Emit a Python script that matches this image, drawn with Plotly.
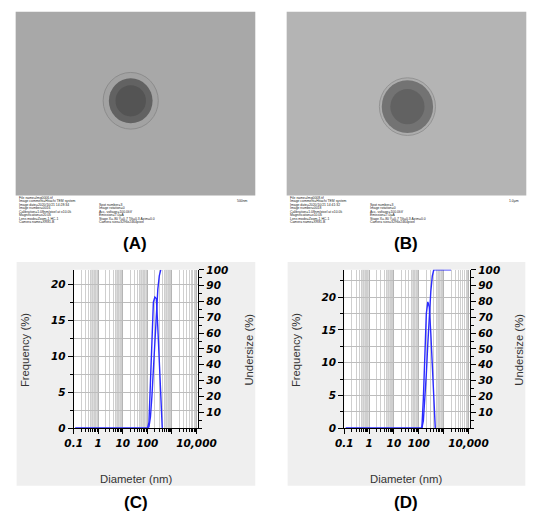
import plotly.graph_objects as go

W, H = 550, 524

# particle size classes (nm) and distributions
diameter = [0.115, 101.1, 116.1, 133.3, 153.1, 175.8, 201.8, 231.7, 266.1,
            305.5, 350.8, 402.8, 462.5, 2000.0]
freq_c = [0, 0, 0.8, 6.2, 13.0, 17.5, 18.2, 18.0, 14.0, 8.5, 3.8, 0, None, None]
under_c = [0, 0, 0.8, 7.0, 20.0, 37.5, 55.7, 73.7, 87.7, 96.2, 100.0, None, None, None]
freq_d = [0, 0, 0, 0, 4.5, 12.0, 17.5, 19.3, 18.5, 14.5, 9.7, 4.0, 0, None]
under_d = [0, 0, 0, 0, 4.5, 16.5, 34.0, 53.3, 71.8, 86.3, 96.0, 100.0, 100.0, 100.0]

x_tickvals = [0.1, 1, 10, 100, 1000, 10000]
x_ticktext = ["0.1", "1", "10", "100", "", "10,000"]
under_tickvals = [10, 20, 30, 40, 50, 60, 70, 80, 90, 100]

meta_left_a = ["File name=Img0006.tif", "Image comment=Hitachi TEM system",
               "Image date=2020/10/21 14:28:34", "Image number=0016",
               "Calibration=1.08nm/pixel at x10.0k", "Magnification=x20.0k",
               "Lens mode=Zoom-1 HC-1", "Camera name=XR81-B"]
meta_left_b = ["File name=Img0008.tif", "Image comment=Hitachi TEM system",
               "Image date=2020/10/21 14:41:32", "Image number=0018",
               "Calibration=1.08nm/pixel at x10.0k", "Magnification=x10.0k",
               "Lens mode=Zoom-1 HC-1", "Camera name=XR81-B"]
meta_right = ["Spot number=3", "Image rotation=0", "Acc. voltage=100.0kV",
              "Emission=7.0\u00b5A", "Stage X=-80 Y=0.7 Tilt=0.3 Azim=0.0",
              "Camera size=3296x2464pixel"]


def px(x):
    return x / W


def py(y):
    return 1 - y / H


BLUE = "#2b2bff"
tick_font = dict(family="DejaVu Sans", size=10.5, weight="bold", style="italic", color="black")
title_font = dict(family="Liberation Sans", size=11.3, color="#333333")
minor_x = [k * 10 ** n for n in range(-1, 4) for k in range(2, 10)]

fig = go.Figure()

# frequency + undersize curves for C and D
fig.add_trace(go.Scatter(x=diameter, y=freq_c, mode="lines", line=dict(color=BLUE, width=1.4),
                         xaxis="x", yaxis="y", connectgaps=False))
fig.add_trace(go.Scatter(x=diameter, y=under_c, mode="lines", line=dict(color=BLUE, width=1.4),
                         xaxis="x", yaxis="y3", connectgaps=False))
fig.add_trace(go.Scatter(x=diameter, y=freq_d, mode="lines", line=dict(color=BLUE, width=1.4),
                         xaxis="x2", yaxis="y2", connectgaps=False))
fig.add_trace(go.Scatter(x=diameter, y=under_d, mode="lines", line=dict(color=BLUE, width=1.4),
                         xaxis="x2", yaxis="y4", connectgaps=False))

ydom = [py(432), py(270)]
panels = {
    "C": dict(plot=(68, 199), bg=(8, 259), xa="x", ya="y", ymax=22.0),
    "D": dict(plot=(352.5, 485), bg=(293, 543), xa="x2", ya="y2", ymax=24.2),
}

shapes = []
annotations = []


def xaxis_cfg(dom, anchor):
    return dict(domain=[px(dom[0]), px(dom[1])], anchor=anchor, type="log", range=[-1, 4.07],
                tickmode="array", tickvals=x_tickvals, ticktext=x_ticktext,
                ticks="outside", ticklen=5, tickcolor="black", tickfont=tick_font,
                showline=True, linecolor="black", linewidth=1, zeroline=False,
                showgrid=True, gridcolor="#b5b5b5", gridwidth=1,
                minor=dict(tickmode="array", tickvals=minor_x, ticks="outside", ticklen=3,
                           tickcolor="black", showgrid=True, gridcolor="#cfcfcf"))


def yaxis_cfg(anchor, ymax):
    return dict(domain=ydom, anchor=anchor, range=[0, ymax], tick0=0, dtick=5,
                ticks="outside", ticklen=5, tickcolor="black", tickfont=tick_font,
                showline=True, linecolor="black", linewidth=1, zeroline=False,
                showgrid=True, gridcolor="#bdbdbd",
                minor=dict(tick0=0, dtick=2.5, ticks="outside", ticklen=3, tickcolor="black",
                           showgrid=True, gridcolor="#bdbdbd"))


def under_cfg(anchor, over):
    return dict(domain=ydom, anchor=anchor, overlaying=over, side="right", range=[0, 100],
                tickmode="array", tickvals=under_tickvals,
                ticks="outside", ticklen=5, tickcolor="black", tickfont=tick_font,
                showline=True, linecolor="black", linewidth=1, zeroline=False, showgrid=False,
                minor=dict(tickmode="linear", tick0=0, dtick=5, ticks="outside", ticklen=3,
                           tickcolor="black"))


for name, p in panels.items():
    x0, x1 = p["plot"]
    b0, b1 = p["bg"]
    # panel background and white plot area
    shapes.append(dict(type="rect", xref="paper", yref="paper", x0=px(b0), x1=px(b1),
                       y0=py(491), y1=py(262), fillcolor="#efefef", line=dict(width=0), layer="below"))
    shapes.append(dict(type="rect", xref="paper", yref="paper", x0=px(x0), x1=px(x1),
                       y0=py(432), y1=py(270), fillcolor="white", line=dict(width=0), layer="below"))
    # gray bands 5-10 in each decade
    for n in range(-1, 3):
        shapes.append(dict(type="rect", xref=p["xa"], yref=p["ya"] + " domain",
                           x0=5 * 10 ** n, x1=10 ** (n + 1), y0=0, y1=1,
                           fillcolor="#dcdcdc", line=dict(width=0), layer="below"))
    cx = (b0 + b1) / 2
    annotations.append(dict(x=px(cx), y=py(484), xref="paper", yref="paper", text="Diameter (nm)",
                            showarrow=False, font=title_font, xanchor="center", yanchor="middle"))
    annotations.append(dict(x=px(b0 + 9), y=py(352), xref="paper", yref="paper", text="Frequency (%)",
                            showarrow=False, font=title_font, textangle=-90,
                            xanchor="center", yanchor="middle"))
    annotations.append(dict(x=px(b1 - 7), y=py(352), xref="paper", yref="paper", text="Undersize (%)",
                            showarrow=False, font=title_font, textangle=-90,
                            xanchor="center", yanchor="middle"))
    annotations.append(dict(x=px(cx), y=py(508), xref="paper", yref="paper", text="<b>(%s)</b>" % name,
                            showarrow=False, font=dict(family="Liberation Sans", size=17, color="black"),
                            xanchor="center", yanchor="middle"))

# TEM micrographs (A) and (B)
tem = [
    dict(label="A", box=(7, 259), bg="#a8a8a8", c=(128, 97), halo=29, halo_fill="#a2a2a2",
         halo_line="#8c8c8c", core=23, core_fill="#626262", inner=16, inner_fill="#545454",
         meta=meta_left_a, scale="500nm"),
    dict(label="B", box=(292, 544), bg="#b4b4b4", c=(419, 103), halo=29.5, halo_fill="#adadad",
         halo_line="#939393", core=27, core_fill="#737373", inner=18, inner_fill="#626262",
         meta=meta_left_b, scale="1.0\u00b5m"),
]


def circle(c, r, fill, line_color=None, lw=0):
    return dict(type="circle", xref="paper", yref="paper",
                x0=px(c[0] - r), x1=px(c[0] + r), y0=py(c[1] + r), y1=py(c[1] - r),
                fillcolor=fill, line=dict(color=line_color or fill, width=lw))


meta_font = dict(family="Liberation Sans", size=3.4, color="#222222")
for t in tem:
    l, r = t["box"]
    shapes.append(dict(type="rect", xref="paper", yref="paper", x0=px(l), x1=px(r),
                       y0=py(194), y1=py(6), fillcolor=t["bg"], line=dict(width=0)))
    shapes.append(circle(t["c"], t["halo"], t["halo_fill"], t["halo_line"], 1))
    shapes.append(circle(t["c"], t["core"], t["core_fill"]))
    shapes.append(circle(t["c"], t["inner"], t["inner_fill"]))
    for i, line in enumerate(t["meta"]):
        annotations.append(dict(x=px(l + 1), y=py(196 + i * 3.6), xref="paper", yref="paper",
                                text=line, showarrow=False, font=meta_font,
                                xanchor="left", yanchor="middle"))
    for i, line in enumerate(meta_right):
        annotations.append(dict(x=px(l + 86), y=py(203.2 + i * 3.6), xref="paper", yref="paper",
                                text=line, showarrow=False, font=meta_font,
                                xanchor="left", yanchor="middle"))
    annotations.append(dict(x=px(r - 6), y=py(200), xref="paper", yref="paper", text=t["scale"],
                            showarrow=False, font=meta_font, xanchor="right", yanchor="middle"))
    annotations.append(dict(x=px((l + r) / 2), y=py(243), xref="paper", yref="paper",
                            text="<b>(%s)</b>" % t["label"], showarrow=False,
                            font=dict(family="Liberation Sans", size=17, color="black"),
                            xanchor="center", yanchor="middle"))

fig.update_layout(
    width=W, height=H, autosize=False,
    margin=dict(l=0, r=0, t=0, b=0),
    paper_bgcolor="white", plot_bgcolor="white",
    showlegend=False,
    xaxis=xaxis_cfg(panels["C"]["plot"], "y"),
    yaxis=yaxis_cfg("x", panels["C"]["ymax"]),
    yaxis3=under_cfg("x", "y"),
    xaxis2=xaxis_cfg(panels["D"]["plot"], "y2"),
    yaxis2=yaxis_cfg("x2", panels["D"]["ymax"]),
    yaxis4=under_cfg("x2", "y2"),
    shapes=shapes,
    annotations=annotations,
)

# page body has a default 8px margin; drop it so the figure fills the window
fig.write_html("out.html", config={"displayModeBar": False},
               post_script="document.body.style.margin = '0';")
